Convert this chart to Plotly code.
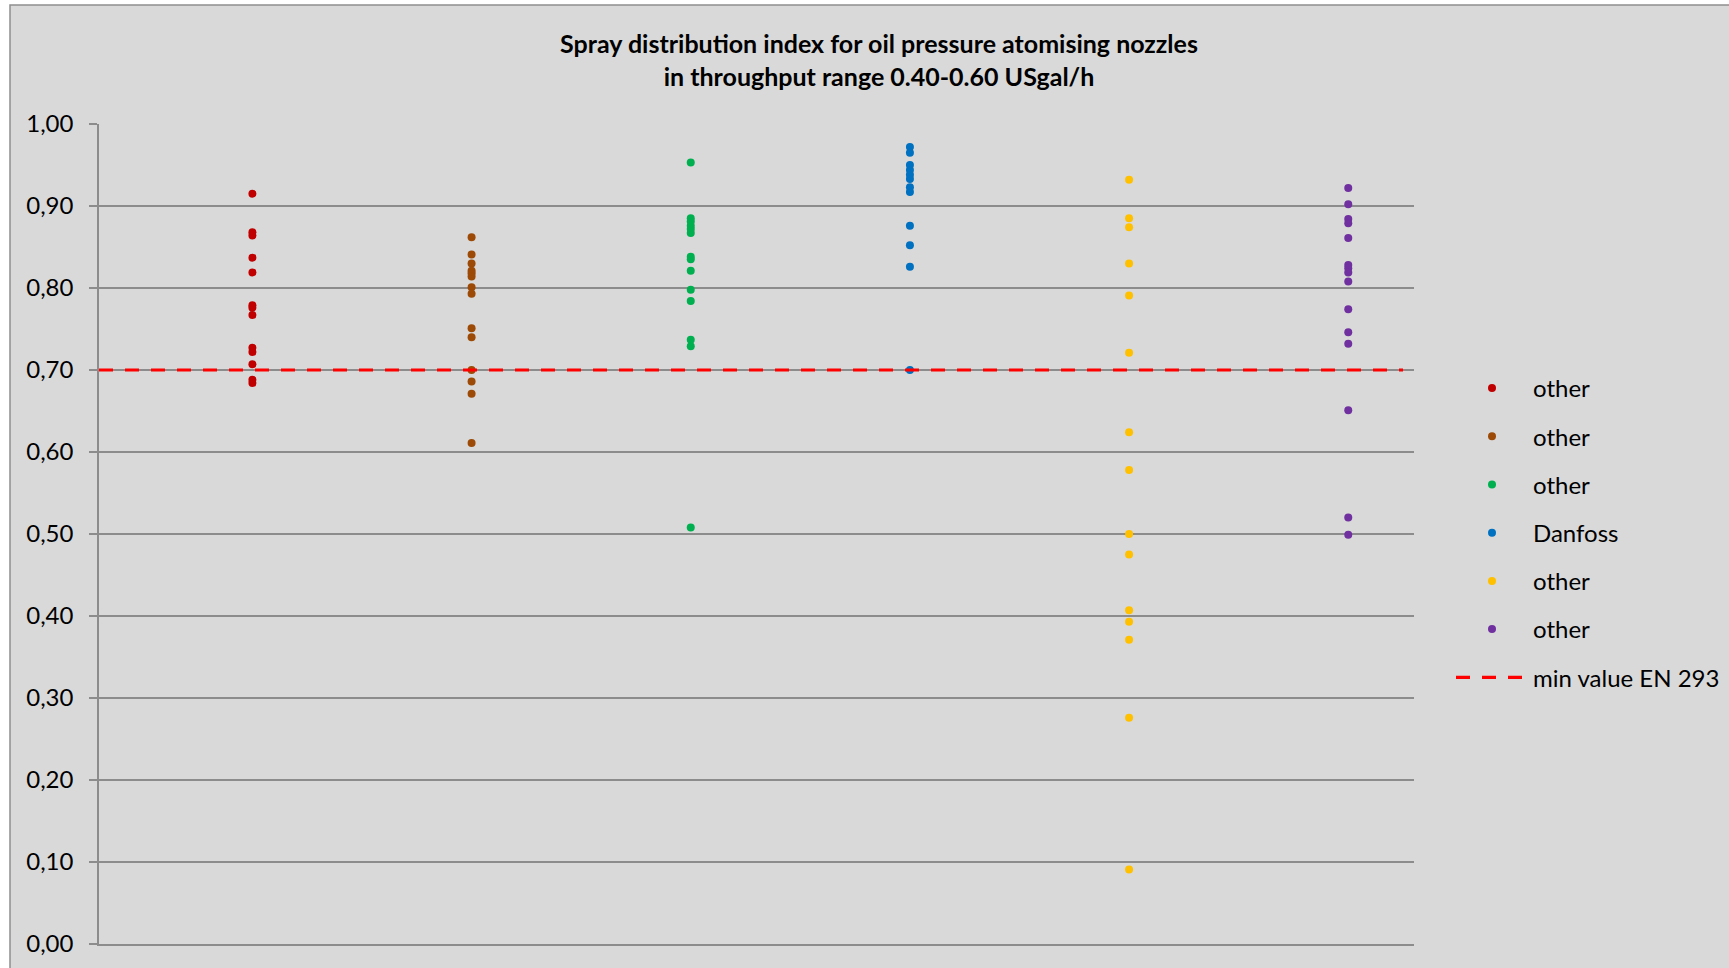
import plotly.graph_objects as go

# ---- data ----
series_names = ["other", "other", "other", "Danfoss", "other", "other"]
series_colors = ["#c00000", "#9c4a06", "#00b050", "#0070c0", "#ffc000", "#7030a0"]

red_vals = [0.915, 0.868, 0.864, 0.837, 0.819, 0.779, 0.776, 0.767, 0.727, 0.722, 0.707, 0.688, 0.684]
brown_vals = [0.862, 0.841, 0.830, 0.821, 0.818, 0.814, 0.801, 0.793, 0.751, 0.740, 0.700, 0.686, 0.671, 0.611]
green_vals = [0.953, 0.885, 0.881, 0.876, 0.872, 0.867, 0.838, 0.835, 0.821, 0.798, 0.784, 0.737, 0.729, 0.508]
blue_vals = [0.972, 0.965, 0.950, 0.944, 0.938, 0.933, 0.923, 0.917, 0.876, 0.852, 0.826, 0.700]
yellow_vals = [0.932, 0.885, 0.874, 0.830, 0.791, 0.721, 0.624, 0.578, 0.500, 0.475, 0.407, 0.393, 0.371, 0.276, 0.091]
purple_vals = [0.922, 0.902, 0.884, 0.879, 0.861, 0.828, 0.824, 0.819, 0.808, 0.774, 0.746, 0.732, 0.651, 0.520, 0.499]

all_series = [red_vals, brown_vals, green_vals, blue_vals, yellow_vals, purple_vals]

min_value_name = "min value EN 293"
min_value = 0.70

title_text = ("Spray distribution index for oil pressure atomising nozzles<br>"
              "in throughput range 0.40-0.60 USgal/h")

# ---- layout constants ----
W, H = 1729, 968
ML, MR, MT, MB = 99, 315, 124, 24
x_range = [0.3, 6.3]
FONT = "Lato"
GRID = "#8c8c8c"
BG = "#d9d9d9"

fig = go.Figure()

for i, (name, vals, col) in enumerate(zip(series_names, all_series, series_colors)):
    fig.add_trace(go.Scatter(
        x=[i + 1] * len(vals), y=vals, mode="markers", name=name,
        legendgroup=f"g{i}",
        marker=dict(color=col, size=8, line=dict(width=0)),
    ))

fig.add_trace(go.Scatter(
    x=[x_range[0], x_range[1] - 0.05], y=[min_value, min_value], mode="lines",
    name=min_value_name, legendgroup="gmin",
    line=dict(color="#ff0000", width=3.2, dash="14px,12px"),
))

pw = W - ML - MR
ph = H - MT - MB


def px_to_paper_x(px):
    return (px - ML) / pw


def px_to_paper_y(py):
    return (H - MB - py) / ph


fig.add_shape(type="rect", xref="paper", yref="paper",
              x0=px_to_paper_x(10), x1=px_to_paper_x(W + 20),
              y0=px_to_paper_y(H + 20), y1=px_to_paper_y(5),
              fillcolor=BG, line=dict(color="#8f8f8f", width=1.5), layer="below")

fig.update_layout(
    width=W, height=H,
    margin=dict(l=ML, r=MR, t=MT, b=MB),
    paper_bgcolor="white", plot_bgcolor=BG,
    separators=",.",
    font=dict(family=FONT, color="black", size=24),
    title=dict(text=title_text, xref="container", yref="container",
               x=879 / W, xanchor="center", y=1 - 53 / H, yanchor="middle",
               font=dict(family=FONT, size=25, weight=700, color="black")),
    xaxis=dict(range=x_range, showgrid=False, zeroline=False, showline=True,
               linecolor=GRID, linewidth=1.5, showticklabels=False, ticks=""),
    yaxis=dict(range=[0, 1.0], dtick=0.1, tick0=0, tickformat=".2f",
               showgrid=True, gridcolor=GRID, gridwidth=1.5, zeroline=False,
               showline=True, linecolor=GRID, linewidth=1.5,
               ticks="outside", ticklen=8, tickcolor=GRID, tickwidth=1.5,
               ticklabelstandoff=11,
               tickfont=dict(family=FONT, size=24, color="black")),
    legend=dict(xref="container", yref="container", x=1451 / W, xanchor="left",
                y=1 - 533 / H, yanchor="middle", bgcolor="rgba(0,0,0,0)",
                font=dict(family=FONT, size=24, color="black"),
                tracegroupgap=14, itemwidth=72, traceorder="grouped"),
    showlegend=True,
)

fig.write_html("out.html", config={"displayModeBar": False},
               post_script="document.body.style.margin='0';")
